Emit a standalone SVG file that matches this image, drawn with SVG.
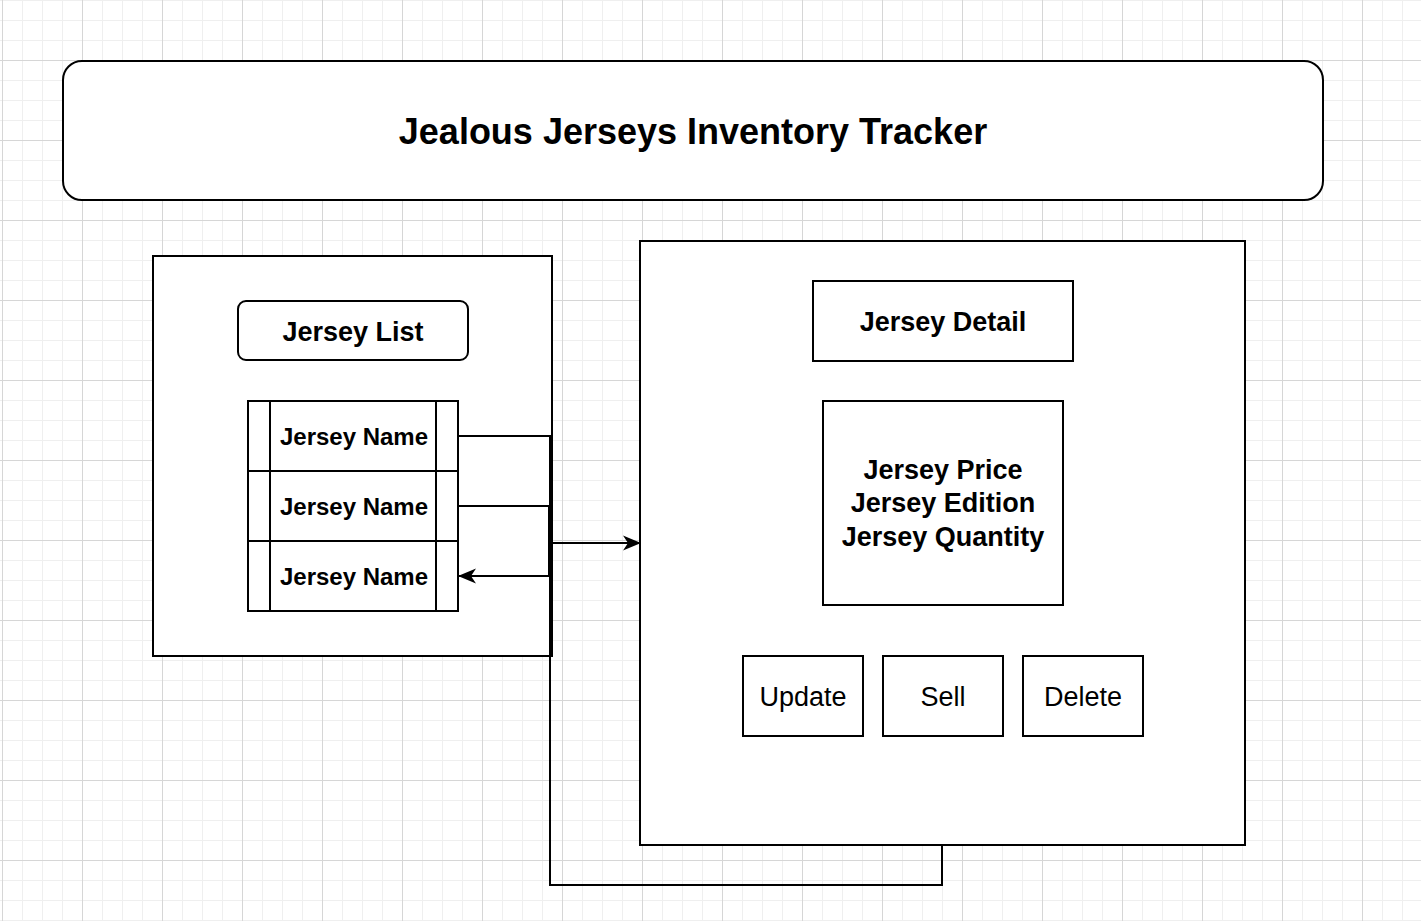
<svg xmlns="http://www.w3.org/2000/svg" width="1421" height="921" viewBox="0 0 1421 921">
<defs>
<pattern id="grid" x="2" y="-20" width="80" height="80" patternUnits="userSpaceOnUse">
<path d="M20.5 0V80M40.5 0V80M60.5 0V80M0 20.5H80M0 40.5H80M0 60.5H80" stroke="#efefef" stroke-width="1" fill="none"/>
<path d="M0.5 0V80M0 0.5H80" stroke="#d6d6d6" stroke-width="1" fill="none"/>
</pattern>
<marker id="arr" markerWidth="18" markerHeight="16" viewBox="0 0 18 16" refX="17" refY="8" orient="auto" markerUnits="userSpaceOnUse">
<path d="M0,0.5 L18,8 L0,15.5 L5,8 z" fill="#000"/>
</marker>
<style>
.box{fill:#fff;stroke:#000;stroke-width:2}
.ln{fill:none;stroke:#000;stroke-width:2}
.t{font-family:"Liberation Sans",Arial,Helvetica,sans-serif;fill:#000;text-anchor:middle}
.b{font-weight:bold}
</style>
</defs>
<rect width="1421" height="921" fill="#fff"/>
<rect width="1421" height="921" fill="url(#grid)"/>

<g id="title">
<rect class="box" x="63" y="61" width="1260" height="139" rx="19"/>
<text class="t b" x="693" y="143.5" font-size="36">Jealous Jerseys Inventory Tracker</text>
</g>

<g id="list-container">
<rect class="box" x="153" y="256" width="399" height="400"/>
</g>

<g id="detail-container">
<rect class="box" x="640" y="241" width="605" height="604"/>
</g>

<g id="jersey-list">
<rect class="box" x="238" y="301" width="230" height="59" rx="8"/>
<text class="t b" x="353" y="340.5" font-size="27">Jersey List</text>
</g>

<g id="row1">
<rect class="box" x="248" y="401" width="210" height="70"/>
<path class="ln" d="M270 401V471M436 401V471"/>
<text class="t b" x="354" y="444.5" font-size="24">Jersey Name</text>
</g>
<g id="row2">
<rect class="box" x="248" y="471" width="210" height="70"/>
<path class="ln" d="M270 471V541M436 471V541"/>
<text class="t b" x="354" y="514.5" font-size="24">Jersey Name</text>
</g>
<g id="row3">
<rect class="box" x="248" y="541" width="210" height="70"/>
<path class="ln" d="M270 541V611M436 541V611"/>
<text class="t b" x="354" y="584.5" font-size="24">Jersey Name</text>
</g>

<g id="jersey-detail">
<rect class="box" x="813" y="281" width="260" height="80"/>
<text class="t b" x="943" y="330.5" font-size="27">Jersey Detail</text>
</g>

<g id="jersey-info">
<rect class="box" x="823" y="401" width="240" height="204"/>
<text class="t b" x="943" y="478.5" font-size="27">Jersey Price</text>
<text class="t b" x="943" y="512" font-size="27">Jersey Edition</text>
<text class="t b" x="943" y="546" font-size="27">Jersey Quantity</text>
</g>

<g id="btn-update">
<rect class="box" x="743" y="656" width="120" height="80"/>
<text class="t" x="803" y="705.5" font-size="27">Update</text>
</g>
<g id="btn-sell">
<rect class="box" x="883" y="656" width="120" height="80"/>
<text class="t" x="943" y="705.5" font-size="27">Sell</text>
</g>
<g id="btn-delete">
<rect class="box" x="1023" y="656" width="120" height="80"/>
<text class="t" x="1083" y="705.5" font-size="27">Delete</text>
</g>

<g id="connectors">
<path class="ln" d="M458 436H550V543"/>
<path class="ln" d="M458 506H549V543"/>
<path class="ln" d="M550 543H640" marker-end="url(#arr)"/>
<path class="ln" d="M549 576H459" marker-end="url(#arr)"/>
<path class="ln" d="M549 543V576"/>
<path class="ln" d="M942 845V885H550V543"/>
</g>
</svg>
